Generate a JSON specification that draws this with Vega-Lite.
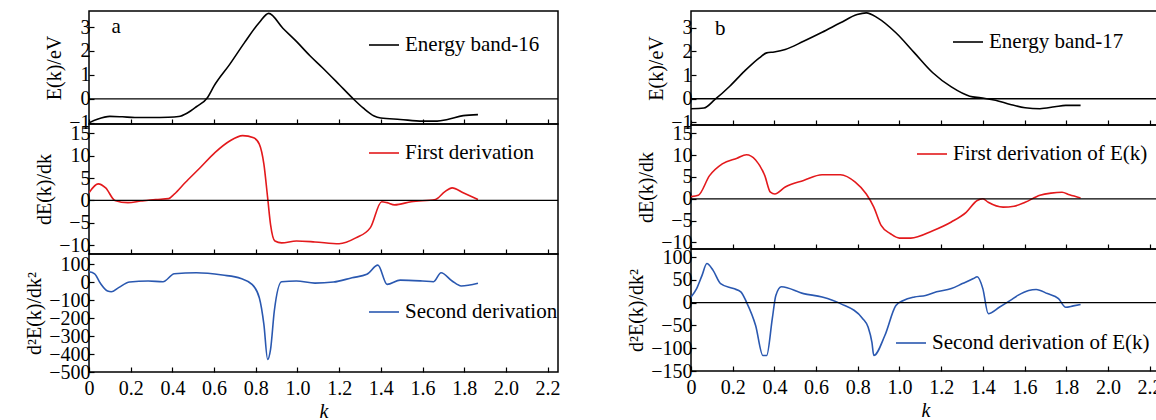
{
  "$schema": "https://vega.github.io/schema/vega-lite/v6.json",
  "background": "white",
  "padding": {"left": 23, "top": 10, "right": 0, "bottom": 0},
  "config": {
    "font": "Liberation Serif, Times New Roman, serif",
    "view": {"stroke": "#000", "strokeWidth": 1.5},
    "axis": {"grid": false, "domain": false, "tickSize": -5, "tickColor": "#000", "tickWidth": 1.2, "labelFont": "Liberation Serif, Times New Roman, serif", "labelFontSize": 20, "labelColor": "#000", "labelPadding": 4, "labelOverlap": false, "labelFlush": false, "titleFont": "Liberation Serif, Times New Roman, serif", "titleFontSize": 20, "titleFontWeight": "normal", "titleColor": "#000", "titlePadding": 4},
    "legend": {"orient": "none", "symbolType": "stroke", "symbolSize": 900, "symbolStrokeWidth": 2, "labelFont": "Liberation Serif, Times New Roman, serif", "labelFontSize": 21, "labelColor": "#000", "padding": 0, "labelLimit": 400, "labelOffset": 5},
    "text": {"font": "Liberation Serif, Times New Roman, serif"},
    "line": {"strokeWidth": 1.6, "interpolate": "monotone"}
  },
  "datasets": {
    "a1": [
      {"k": 0, "v": -1.0}, {"k": 0.04, "v": -0.85}, {"k": 0.1, "v": -0.73}, {"k": 0.16, "v": -0.75}, {"k": 0.22, "v": -0.78}, {"k": 0.3, "v": -0.78}, {"k": 0.38, "v": -0.77}, {"k": 0.43, "v": -0.74}, {"k": 0.47, "v": -0.6}, {"k": 0.515, "v": -0.33}, {"k": 0.569, "v": 0.06}, {"k": 0.6, "v": 0.54}, {"k": 0.675, "v": 1.44}, {"k": 0.746, "v": 2.35}, {"k": 0.817, "v": 3.19}, {"k": 0.862, "v": 3.57}, {"k": 0.93, "v": 2.95}, {"k": 0.995, "v": 2.4}, {"k": 1.06, "v": 1.8}, {"k": 1.12, "v": 1.3}, {"k": 1.2, "v": 0.6}, {"k": 1.262, "v": 0.05}, {"k": 1.315, "v": -0.38}, {"k": 1.368, "v": -0.72}, {"k": 1.4, "v": -0.8}, {"k": 1.493, "v": -0.86}, {"k": 1.6, "v": -0.93}, {"k": 1.67, "v": -0.93}, {"k": 1.72, "v": -0.86}, {"k": 1.795, "v": -0.7}, {"k": 1.866, "v": -0.66}
    ],
    "a2": [
      {"k": 0, "v": 1.7}, {"k": 0.044, "v": 3.7}, {"k": 0.08, "v": 2.8}, {"k": 0.124, "v": 0}, {"k": 0.187, "v": -0.5}, {"k": 0.249, "v": -0.15}, {"k": 0.32, "v": 0.2}, {"k": 0.382, "v": 0.4}, {"k": 0.409, "v": 1.4}, {"k": 0.462, "v": 4.0}, {"k": 0.533, "v": 7.3}, {"k": 0.604, "v": 10.7}, {"k": 0.675, "v": 13.3}, {"k": 0.737, "v": 14.5}, {"k": 0.79, "v": 14.0}, {"k": 0.817, "v": 12.6}, {"k": 0.839, "v": 8.1}, {"k": 0.857, "v": 0.6}, {"k": 0.871, "v": -5.4}, {"k": 0.892, "v": -9.1}, {"k": 0.924, "v": -9.5}, {"k": 0.995, "v": -9.1}, {"k": 1.084, "v": -9.3}, {"k": 1.2, "v": -9.7}, {"k": 1.28, "v": -8.4}, {"k": 1.35, "v": -6.1}, {"k": 1.404, "v": -0.3}, {"k": 1.43, "v": -0.5}, {"k": 1.466, "v": -1.0}, {"k": 1.546, "v": -0.3}, {"k": 1.662, "v": 0.2}, {"k": 1.706, "v": 1.9}, {"k": 1.742, "v": 2.8}, {"k": 1.795, "v": 1.7}, {"k": 1.866, "v": 0.2}
    ],
    "a3": [
      {"k": 0, "v": 57}, {"k": 0.027, "v": 46}, {"k": 0.053, "v": -4}, {"k": 0.089, "v": -50}, {"k": 0.107, "v": -54}, {"k": 0.142, "v": -31}, {"k": 0.195, "v": 0}, {"k": 0.284, "v": 6}, {"k": 0.355, "v": 2}, {"k": 0.409, "v": 46}, {"k": 0.515, "v": 52}, {"k": 0.64, "v": 39}, {"k": 0.729, "v": 20}, {"k": 0.782, "v": -13}, {"k": 0.817, "v": -87}, {"k": 0.839, "v": -235}, {"k": 0.857, "v": -430}, {"k": 0.871, "v": -374}, {"k": 0.889, "v": -161}, {"k": 0.924, "v": 2}, {"k": 0.995, "v": 6}, {"k": 1.084, "v": -6}, {"k": 1.173, "v": 0}, {"k": 1.262, "v": 24}, {"k": 1.333, "v": 43}, {"k": 1.386, "v": 94}, {"k": 1.43, "v": -13}, {"k": 1.493, "v": 11}, {"k": 1.6, "v": 6}, {"k": 1.653, "v": 2}, {"k": 1.689, "v": 52}, {"k": 1.742, "v": 6}, {"k": 1.786, "v": -22}, {"k": 1.866, "v": -7}
    ],
    "b1": [
      {"k": 0, "v": -0.42}, {"k": 0.062, "v": -0.39}, {"k": 0.115, "v": -0.03}, {"k": 0.186, "v": 0.53}, {"k": 0.257, "v": 1.17}, {"k": 0.328, "v": 1.73}, {"k": 0.363, "v": 1.94}, {"k": 0.399, "v": 1.98}, {"k": 0.452, "v": 2.08}, {"k": 0.54, "v": 2.43}, {"k": 0.629, "v": 2.81}, {"k": 0.717, "v": 3.21}, {"k": 0.797, "v": 3.56}, {"k": 0.841, "v": 3.63}, {"k": 0.895, "v": 3.42}, {"k": 0.983, "v": 2.79}, {"k": 1.072, "v": 1.94}, {"k": 1.16, "v": 1.1}, {"k": 1.249, "v": 0.5}, {"k": 1.337, "v": 0.11}, {"k": 1.39, "v": 0.04}, {"k": 1.461, "v": -0.06}, {"k": 1.532, "v": -0.24}, {"k": 1.603, "v": -0.38}, {"k": 1.674, "v": -0.42}, {"k": 1.745, "v": -0.34}, {"k": 1.798, "v": -0.28}, {"k": 1.869, "v": -0.28}
    ],
    "b2": [
      {"k": 0, "v": 0.5}, {"k": 0.035, "v": 0.8}, {"k": 0.089, "v": 5.3}, {"k": 0.15, "v": 8.0}, {"k": 0.221, "v": 9.3}, {"k": 0.266, "v": 10.1}, {"k": 0.31, "v": 8.9}, {"k": 0.354, "v": 5.3}, {"k": 0.381, "v": 1.5}, {"k": 0.402, "v": 1.1}, {"k": 0.452, "v": 2.7}, {"k": 0.54, "v": 4.2}, {"k": 0.629, "v": 5.5}, {"k": 0.717, "v": 5.5}, {"k": 0.788, "v": 3.8}, {"k": 0.841, "v": 1.1}, {"k": 0.877, "v": -1.9}, {"k": 0.912, "v": -6.1}, {"k": 0.957, "v": -8.0}, {"k": 1.0, "v": -9.0}, {"k": 1.054, "v": -9.0}, {"k": 1.16, "v": -7.3}, {"k": 1.249, "v": -5.3}, {"k": 1.32, "v": -3.1}, {"k": 1.373, "v": -0.4}, {"k": 1.4, "v": 0}, {"k": 1.426, "v": -0.8}, {"k": 1.497, "v": -1.9}, {"k": 1.55, "v": -1.7}, {"k": 1.603, "v": -0.8}, {"k": 1.674, "v": 0.8}, {"k": 1.727, "v": 1.3}, {"k": 1.78, "v": 1.5}, {"k": 1.816, "v": 0.9}, {"k": 1.869, "v": 0.2}
    ],
    "b3": [
      {"k": 0, "v": 12.5}, {"k": 0.027, "v": 31}, {"k": 0.053, "v": 60}, {"k": 0.076, "v": 86}, {"k": 0.106, "v": 71}, {"k": 0.142, "v": 42}, {"k": 0.204, "v": 31}, {"k": 0.239, "v": 24}, {"k": 0.266, "v": 1.5}, {"k": 0.31, "v": -50}, {"k": 0.345, "v": -116}, {"k": 0.363, "v": -116}, {"k": 0.39, "v": -35}, {"k": 0.407, "v": 16}, {"k": 0.434, "v": 35}, {"k": 0.54, "v": 20}, {"k": 0.629, "v": 12.5}, {"k": 0.717, "v": -2}, {"k": 0.824, "v": -35}, {"k": 0.85, "v": -54}, {"k": 0.868, "v": -87}, {"k": 0.877, "v": -116}, {"k": 0.93, "v": -72}, {"k": 0.983, "v": -6}, {"k": 1.019, "v": 5}, {"k": 1.072, "v": 12.5}, {"k": 1.125, "v": 16}, {"k": 1.178, "v": 24}, {"k": 1.249, "v": 31}, {"k": 1.302, "v": 42}, {"k": 1.355, "v": 53}, {"k": 1.373, "v": 57}, {"k": 1.4, "v": 31}, {"k": 1.426, "v": -24}, {"k": 1.479, "v": -10}, {"k": 1.532, "v": 5}, {"k": 1.568, "v": 16}, {"k": 1.62, "v": 27}, {"k": 1.656, "v": 29}, {"k": 1.71, "v": 20}, {"k": 1.763, "v": 9}, {"k": 1.798, "v": -10}, {"k": 1.834, "v": -7}, {"k": 1.869, "v": -4}
    ]
  },
  "spacing": 64,
  "resolve": {"scale": {"color": "independent", "x": "independent", "y": "independent"}, "legend": {"color": "independent"}},
  "hconcat": [
    {
      "spacing": 0,
      "bounds": "flush",
      "resolve": {"scale": {"color": "independent", "x": "independent", "y": "independent"}, "legend": {"color": "independent"}},
      "vconcat": [
        {
          "width": 469, "height": 113,
          "layer": [
            {"data": {"name": "a1"}, "mark": {"type": "line", "clip": true},
             "encoding": {
               "x": {"field": "k", "type": "quantitative", "scale": {"domain": [0, 2.25], "nice": false}, "axis": {"labels": false, "title": null, "labelOverlap": false, "values": [0, 0.2, 0.4, 0.6, 0.8, 1.0, 1.2, 1.4, 1.6, 1.8, 2.0, 2.2]}},
               "y": {"field": "v", "type": "quantitative", "scale": {"domain": [-1.05, 3.67], "nice": false, "zero": false}, "axis": {"values": [-1, 0, 1, 2, 3], "title": "E(k)/eV", "labelOverlap": false}},
               "color": {"datum": "Energy band-16", "scale": {"range": ["#000000"]}, "legend": {"title": null, "legendX": 279, "legendY": 18}}
             }},
            {"data": {"values": [{}]}, "mark": {"type": "rule", "color": "#000", "strokeWidth": 1.3}, "encoding": {"y": {"datum": 0, "axis": {"values": [-1, 0, 1, 2, 3], "title": "E(k)/eV", "labelOverlap": false}}}},
            {"data": {"values": [{}]}, "mark": {"type": "text", "fontSize": 21, "color": "#000"}, "encoding": {
              "x": {"datum": 0.13, "axis": {"labels": false, "title": null, "labelOverlap": false, "values": [0, 0.2, 0.4, 0.6, 0.8, 1.0, 1.2, 1.4, 1.6, 1.8, 2.0, 2.2]}},
              "y": {"datum": 3.0, "axis": {"values": [-1, 0, 1, 2, 3], "title": "E(k)/eV", "labelOverlap": false}},
              "text": {"value": "a"}}}
          ]
        },
        {
          "width": 469, "height": 130,
          "layer": [
            {"data": {"name": "a2"}, "mark": {"type": "line", "clip": true},
             "encoding": {
               "x": {"field": "k", "type": "quantitative", "scale": {"domain": [0, 2.25], "nice": false}, "axis": {"labels": false, "title": null, "labelOverlap": false, "values": [0, 0.2, 0.4, 0.6, 0.8, 1.0, 1.2, 1.4, 1.6, 1.8, 2.0, 2.2]}},
               "y": {"field": "v", "type": "quantitative", "scale": {"domain": [-12, 17.1], "nice": false, "zero": false}, "axis": {"values": [-10, -5, 0, 5, 10, 15], "title": "dE(k)/dk", "labelOverlap": false}},
               "color": {"datum": "First derivation", "scale": {"range": ["#e3191c"]}, "legend": {"title": null, "legendX": 279, "legendY": 13}}
             }},
            {"data": {"values": [{}]}, "mark": {"type": "rule", "color": "#000", "strokeWidth": 1.3}, "encoding": {"y": {"datum": 0, "axis": {"values": [-10, -5, 0, 5, 10, 15], "title": "dE(k)/dk", "labelOverlap": false}}}}
          ]
        },
        {
          "width": 469, "height": 118,
          "layer": [
            {"data": {"name": "a3"}, "mark": {"type": "line", "clip": true},
             "encoding": {
               "x": {"field": "k", "type": "quantitative", "scale": {"domain": [0, 2.25], "nice": false}, "axis": {"title": "k", "titleFontStyle": "italic", "titleFontSize": 20, "labelOverlap": false, "values": [0, 0.2, 0.4, 0.6, 0.8, 1.0, 1.2, 1.4, 1.6, 1.8, 2.0, 2.2], "labelExpr": "datum.value == 0 ? '0' : format(datum.value, '.1f')", "labelPadding": 11, "titlePadding": 3}},
               "y": {"field": "v", "type": "quantitative", "scale": {"domain": [-500, 156], "nice": false, "zero": false}, "axis": {"values": [-500, -400, -300, -200, -100, 0, 100], "title": "d²E(k)/dk²", "labelOverlap": false}},
               "color": {"datum": "Second derivation", "scale": {"range": ["#2a58b0"]}, "legend": {"title": null, "legendX": 279, "legendY": 42}}
             }}
          ]
        }
      ]
    },
    {
      "spacing": 0,
      "bounds": "flush",
      "resolve": {"scale": {"color": "independent", "x": "independent", "y": "independent"}, "legend": {"color": "independent"}},
      "vconcat": [
        {
          "width": 469, "height": 114,
          "layer": [
            {"data": {"name": "b1"}, "mark": {"type": "line", "clip": true},
             "encoding": {
               "x": {"field": "k", "type": "quantitative", "scale": {"domain": [0, 2.25], "nice": false}, "axis": {"labels": false, "title": null, "labelOverlap": false, "values": [0, 0.2, 0.4, 0.6, 0.8, 1.0, 1.2, 1.4, 1.6, 1.8, 2.0, 2.2]}},
               "y": {"field": "v", "type": "quantitative", "scale": {"domain": [-1.11, 3.71], "nice": false, "zero": false}, "axis": {"values": [-1, 0, 1, 2, 3], "title": "E(k)/eV", "labelOverlap": false}},
               "color": {"datum": "Energy band-17", "scale": {"range": ["#000000"]}, "legend": {"title": null, "legendX": 261, "legendY": 15}}
             }},
            {"data": {"values": [{}]}, "mark": {"type": "rule", "color": "#000", "strokeWidth": 1.3}, "encoding": {"y": {"datum": 0, "axis": {"values": [-1, 0, 1, 2, 3], "title": "E(k)/eV", "labelOverlap": false}}}},
            {"data": {"values": [{}]}, "mark": {"type": "text", "fontSize": 21, "color": "#000"}, "encoding": {
              "x": {"datum": 0.14, "axis": {"labels": false, "title": null, "labelOverlap": false, "values": [0, 0.2, 0.4, 0.6, 0.8, 1.0, 1.2, 1.4, 1.6, 1.8, 2.0, 2.2]}},
              "y": {"datum": 2.95, "axis": {"values": [-1, 0, 1, 2, 3], "title": "E(k)/eV", "labelOverlap": false}},
              "text": {"value": "b"}}}
          ]
        },
        {
          "width": 469, "height": 124,
          "layer": [
            {"data": {"name": "b2"}, "mark": {"type": "line", "clip": true},
             "encoding": {
               "x": {"field": "k", "type": "quantitative", "scale": {"domain": [0, 2.25], "nice": false}, "axis": {"labels": false, "title": null, "labelOverlap": false, "values": [0, 0.2, 0.4, 0.6, 0.8, 1.0, 1.2, 1.4, 1.6, 1.8, 2.0, 2.2]}},
               "y": {"field": "v", "type": "quantitative", "scale": {"domain": [-11.5, 16.9], "nice": false, "zero": false}, "axis": {"values": [-10, -5, 0, 5, 10, 15], "title": "dE(k)/dk", "labelOverlap": false}},
               "color": {"datum": "First derivation of E(k)", "scale": {"range": ["#e3191c"]}, "legend": {"title": null, "legendX": 225, "legendY": 13}}
             }},
            {"data": {"values": [{}]}, "mark": {"type": "rule", "color": "#000", "strokeWidth": 1.3}, "encoding": {"y": {"datum": 0, "axis": {"values": [-10, -5, 0, 5, 10, 15], "title": "dE(k)/dk", "labelOverlap": false}}}}
          ]
        },
        {
          "width": 469, "height": 122,
          "layer": [
            {"data": {"name": "b3"}, "mark": {"type": "line", "clip": true},
             "encoding": {
               "x": {"field": "k", "type": "quantitative", "scale": {"domain": [0, 2.25], "nice": false}, "axis": {"title": "k", "titleFontStyle": "italic", "titleFontSize": 20, "labelOverlap": false, "values": [0, 0.2, 0.4, 0.6, 0.8, 1.0, 1.2, 1.4, 1.6, 1.8, 2.0, 2.2], "labelExpr": "datum.value == 0 ? '0' : format(datum.value, '.1f')", "labelPadding": 11, "titlePadding": 3}},
               "y": {"field": "v", "type": "quantitative", "scale": {"domain": [-150, 118], "nice": false, "zero": false}, "axis": {"values": [-150, -100, -50, 0, 50, 100], "title": "d²E(k)/dk²", "labelOverlap": false}},
               "color": {"datum": "Second derivation of E(k)", "scale": {"range": ["#2a58b0"]}, "legend": {"title": null, "legendX": 204, "legendY": 78}}
             }},
            {"data": {"values": [{}]}, "mark": {"type": "rule", "color": "#000", "strokeWidth": 1.3}, "encoding": {"y": {"datum": 0, "axis": {"values": [-150, -100, -50, 0, 50, 100], "title": "d²E(k)/dk²", "labelOverlap": false}}}}
          ]
        }
      ]
    }
  ]
}
